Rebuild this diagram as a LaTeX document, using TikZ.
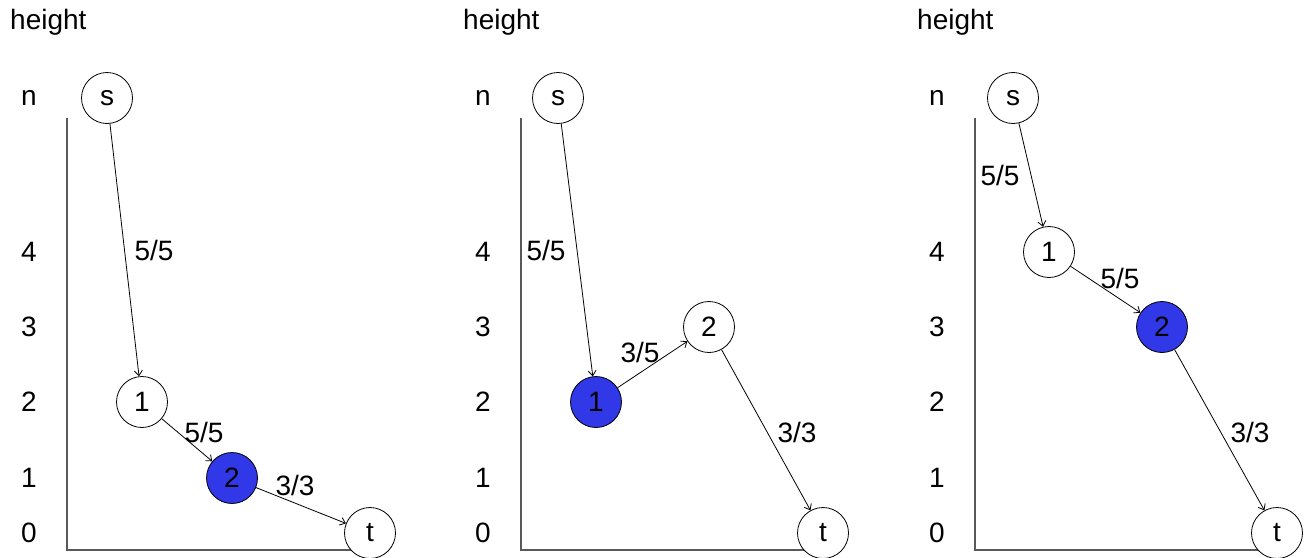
\documentclass[tikz,border=0pt]{standalone}
\usepackage{fontspec}
\setmainfont{Liberation Sans}
\usepackage{xcolor}
\usetikzlibrary{arrows.meta}
\definecolor{activeblue}{RGB}{48,56,232}

\begin{document}
\begin{tikzpicture}[
    x=1pt, y=-1pt,
    >={Straight Barb[length=5pt, width=8pt]},
    txt/.style={font=\fontsize{28}{32}\selectfont, inner sep=1pt},
    vertex/.style={draw, circle, fill=white, line width=0.8pt, minimum size=51pt, inner sep=0pt, txt},
    active/.style={vertex, fill=activeblue},
    axis/.style={draw=black!65, line width=1.4pt},
    edge/.style={->, line width=0.8pt},
]
\useasboundingbox (0,0) rectangle (1311,557);

% Panel 1
\node[txt, anchor=west] (h-a) at (9,22) {height};
\node[txt] (yn-a) at (29,98) {n};
\node[txt] (y4-a) at (29,252) {4};
\node[txt] (y3-a) at (29,327) {3};
\node[txt] (y2-a) at (29,402) {2};
\node[txt] (y1-a) at (29,478) {1};
\node[txt] (y0-a) at (29,533) {0};
\coordinate (top-a) at (67,118);
\coordinate (org-a) at (67,550);
\coordinate (end-a) at (370,550);
\draw[axis] (top-a) -- (org-a) -- (end-a);

\node[vertex] (s-a) at (107,98) {s};
\node[vertex] (n1-a) at (142,402) {1};
\node[active] (n2-a) at (232,478) {2};
\node[vertex] (t-a) at (370,533) {t};

\draw[edge] (s-a) -- (n1-a);
\draw[edge] (n1-a) -- (n2-a);
\draw[edge] (n2-a) -- (t-a);
\node[txt] (l1-a) at (154,250) {5/5};
\node[txt] (l2-a) at (204,432) {5/5};
\node[txt] (l3-a) at (295,485) {3/3};

% Panel 2
\node[txt, anchor=west] (h-b) at (462,22) {height};
\node[txt] (yn-b) at (483,98) {n};
\node[txt] (y4-b) at (483,252) {4};
\node[txt] (y3-b) at (483,327) {3};
\node[txt] (y2-b) at (483,402) {2};
\node[txt] (y1-b) at (483,478) {1};
\node[txt] (y0-b) at (483,533) {0};
\coordinate (top-b) at (521,118);
\coordinate (org-b) at (521,550);
\coordinate (end-b) at (823,550);
\draw[axis] (top-b) -- (org-b) -- (end-b);

\node[vertex] (s-b) at (558,98) {s};
\node[active] (n1-b) at (596,402) {1};
\node[vertex] (n2-b) at (709,327) {2};
\node[vertex] (t-b) at (823,533) {t};

\draw[edge] (s-b) -- (n1-b);
\draw[edge] (n1-b) -- (n2-b);
\draw[edge] (n2-b) -- (t-b);
\node[txt] (l1-b) at (546,250) {5/5};
\node[txt] (l2-b) at (640,352) {3/5};
\node[txt] (l3-b) at (797,432) {3/3};

% Panel 3
\node[txt, anchor=west] (h-c) at (916,22) {height};
\node[txt] (yn-c) at (937,98) {n};
\node[txt] (y4-c) at (937,252) {4};
\node[txt] (y3-c) at (937,327) {3};
\node[txt] (y2-c) at (937,402) {2};
\node[txt] (y1-c) at (937,478) {1};
\node[txt] (y0-c) at (937,533) {0};
\coordinate (top-c) at (975,118);
\coordinate (org-c) at (975,550);
\coordinate (end-c) at (1277,550);
\draw[axis] (top-c) -- (org-c) -- (end-c);

\node[vertex] (s-c) at (1013,98) {s};
\node[vertex] (n1-c) at (1049,252) {1};
\node[active] (n2-c) at (1162,327) {2};
\node[vertex] (t-c) at (1277,533) {t};

\draw[edge] (s-c) -- (n1-c);
\draw[edge] (n1-c) -- (n2-c);
\draw[edge] (n2-c) -- (t-c);
\node[txt] (l1-c) at (1000,175) {5/5};
\node[txt] (l2-c) at (1120,278) {5/5};
\node[txt] (l3-c) at (1250,432) {3/3};

\end{tikzpicture}
\end{document}
